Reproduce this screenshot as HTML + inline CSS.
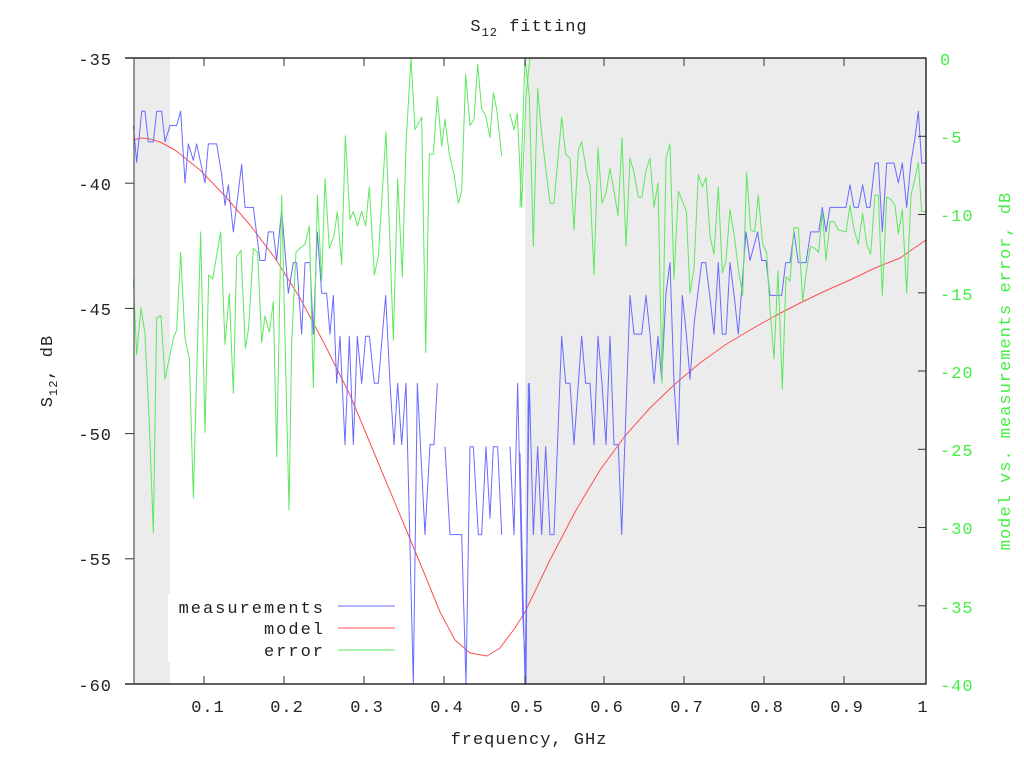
<!DOCTYPE html>
<html><head><meta charset="utf-8"><style>
html,body{margin:0;padding:0;background:#fff}
svg{display:block}
text{font-family:"Liberation Mono","DejaVu Sans Mono",monospace}
</style></head><body>
<svg width="1024" height="768" viewBox="0 0 1024 768" xmlns="http://www.w3.org/2000/svg">
<rect width="1024" height="768" fill="#fff"/>
<rect x="134" y="58" width="36" height="626" fill="#ececec"/>
<rect x="525" y="58" width="401" height="626" fill="#ececec"/>
<!-- legend background -->
<rect x="168" y="594" width="232" height="68" fill="#fff"/>

<g fill="none" stroke-linejoin="round">
<!-- model -->
<polyline stroke="#ff5050" stroke-width="1" points="134,140 140,138 150,139 160,142 175,150 200,170 225,196 250,225 275,258 300,298 325,345 350,395 375,455 400,515 425,575 440,612 455,640 470,653 487,656 500,648 515,628 525,612 550,560 575,512 600,470 625,436 650,408 675,384 700,363 725,345 750,330 775,316 800,303 825,291 850,280 875,268 900,258 926,240"/>
<!-- measurements left half -->
<g transform="translate(130,55.95) scale(0.33333,0.40917)" stroke="#6a6aff" stroke-width="1">
<polyline vector-effect="non-scaling-stroke" points="10,170 20,260 35,135 45,135 55,210 70,210 80,135 95,135 105,210 120,170 140,170 152,135 165,310 175,215 190,255 200,215 225,310 235,215 260,215 275,290 285,365 295,315 310,430 335,265 345,370 370,370 390,500 405,500 415,430 430,430 440,500 455,375 475,580 490,505 500,505 515,680 525,505 540,505 550,680 562,430 575,580 590,580 600,680 610,585 620,800 630,685 645,950 658,685 670,950 682,685 695,800 707,685 718,685 733,800 745,800 767,585 780,800 792,950 803,800 815,950 828,800 850,1535 862,800 885,1170 900,950 912,950 922,800"/>
<polyline vector-effect="non-scaling-stroke" points="945,955 960,1170 995,1170 1008,1535 1020,955 1030,955 1045,1170 1055,1170 1068,955 1080,1130 1090,955 1103,955 1115,1170"/>
<polyline vector-effect="non-scaling-stroke" points="1140,955 1152,1170 1163,800 1178,1360 1188,1535 1195,800"/>
</g>
<g transform="translate(520,55.95) scale(0.33333,0.40917)" stroke="#6a6aff" stroke-width="1">
<polyline vector-effect="non-scaling-stroke" points="0,970 15,1535 28,800 40,1170 53,955 65,1170 77,955 90,1170 102,1170 125,685 137,800 150,800 162,950 185,685 197,800 210,800 222,950 234,685 246,800 258,950 270,685 282,950 295,950 305,1170 330,585 342,680 365,680 378,585 390,680 402,800 414,685 425,790 438,580 450,505 462,800 474,950 487,585 499,680 510,790 523,650 545,505 557,505 570,590 582,680 595,505 607,680 618,680 630,505 643,590 655,680 678,430 690,500 713,430 725,500 738,500 750,585 785,585 797,505 810,505 822,430 835,505 858,505 872,430 896,430 907,370 918,430 930,370 978,370 990,315 1002,370 1015,370 1028,315 1040,370 1050,370 1065,262 1075,262 1087,430 1100,262 1122,262 1135,310 1147,262 1160,370 1173,260 1185,200 1195,135 1205,262 1218,262"/>
</g>
<!-- error -->
<g transform="translate(130,55.95) scale(0.33333,0.40917)" stroke="#5ee85e" stroke-width="1">
<polyline vector-effect="non-scaling-stroke" points="10,545 20,730 33,615 45,680 58,900 70,1165 80,640 93,635 105,790 130,690 140,670 152,480 165,690 178,740 190,1080 200,780 212,430 225,920 236,535 248,545 272,430 285,705 298,580 310,825 320,490 333,475 346,715 356,665 370,470 383,480 395,700 405,635 418,675 430,600 440,980 455,340 477,1110 485,700 498,480 510,470 525,460 538,415 550,810 562,340 575,550 585,300 598,470 612,440 622,380 635,510 646,195 660,400 670,380 682,415 695,380 707,415 718,320 733,535 745,490 768,185 790,695 803,300 817,540 828,215 843,5 855,180 875,150 887,725 898,240 910,240 922,100 935,220 945,155 958,240 972,290 985,360 995,330 1007,45 1020,170 1032,155 1043,20 1055,130 1067,145 1080,200 1090,90 1100,130 1115,245"/>
<polyline vector-effect="non-scaling-stroke" points="1140,140 1152,180 1162,140 1175,370 1188,100 1200,5"/>
</g>
<g transform="translate(520,55.95) scale(0.33333,0.40917)" stroke="#5ee85e" stroke-width="1">
<polyline vector-effect="non-scaling-stroke" points="0,370 15,5 28,100 40,465 53,80 65,190 75,260 90,360 102,360 125,150 137,240 150,250 162,425 175,230 185,210 200,285 210,315 222,535 234,225 246,360 258,335 270,275 282,330 294,390 306,200 318,465 330,250 342,285 355,345 366,345 378,280 390,250 402,370 414,310 426,800 438,250 450,215 462,545 475,330 487,355 499,380 510,580 522,520 535,290 547,320 558,297 570,440 582,485 595,320 607,530 618,500 630,375 643,440 655,520 668,585 680,285 692,425 704,430 715,340 728,460 740,480 750,620 762,740 774,525 787,815 798,540 810,550 822,420 835,420 848,600 860,520 872,465 884,470 896,480 907,380 918,500 930,405 942,405 955,425 978,430 990,365 1002,425 1015,460 1028,385 1040,460 1052,485 1065,340 1075,340 1087,585 1100,345 1112,350 1125,365 1135,435 1147,375 1160,580 1173,340 1185,300 1195,260 1205,380 1218,380"/>
</g>
</g>

<!-- frame -->
<g stroke="#000" stroke-width="1.2" fill="none">
<polyline points="125,58 926,58 926,684 125,684"/>
<line x1="134" y1="58" x2="134" y2="684" stroke="#555"/>
</g>
<!-- ticks -->
<g stroke="#333" stroke-width="1">
<line x1="125" y1="183.2" x2="134" y2="183.2"/><line x1="125" y1="308.4" x2="134" y2="308.4"/><line x1="125" y1="433.6" x2="134" y2="433.6"/><line x1="125" y1="558.8" x2="134" y2="558.8"/>
<line x1="918" y1="136.3" x2="926" y2="136.3"/><line x1="918" y1="214.5" x2="926" y2="214.5"/><line x1="918" y1="292.8" x2="926" y2="292.8"/><line x1="918" y1="371" x2="926" y2="371"/><line x1="918" y1="449.3" x2="926" y2="449.3"/><line x1="918" y1="527.5" x2="926" y2="527.5"/><line x1="918" y1="605.8" x2="926" y2="605.8"/>
<line x1="204" y1="58" x2="204" y2="66"/><line x1="284" y1="58" x2="284" y2="66"/><line x1="364" y1="58" x2="364" y2="66"/><line x1="444" y1="58" x2="444" y2="66"/><line x1="525" y1="58" x2="525" y2="66"/><line x1="604" y1="58" x2="604" y2="66"/><line x1="684" y1="58" x2="684" y2="66"/><line x1="764" y1="58" x2="764" y2="66"/><line x1="844" y1="58" x2="844" y2="66"/>
<line x1="204" y1="684" x2="204" y2="676"/><line x1="284" y1="684" x2="284" y2="676"/><line x1="364" y1="684" x2="364" y2="676"/><line x1="444" y1="684" x2="444" y2="676"/><line x1="525" y1="684" x2="525" y2="676"/><line x1="604" y1="684" x2="604" y2="676"/><line x1="684" y1="684" x2="684" y2="676"/><line x1="764" y1="684" x2="764" y2="676"/><line x1="844" y1="684" x2="844" y2="676"/>
</g>

<!-- left labels -->
<g font-size="17" fill="#222" text-anchor="end" letter-spacing="1">
<text x="112" y="65">-35</text><text x="112" y="190">-40</text><text x="112" y="315">-45</text><text x="112" y="440">-50</text><text x="112" y="565">-55</text><text x="112" y="691">-60</text>
</g>
<!-- right labels -->
<g font-size="17" fill="#44ee44" letter-spacing="1">
<text x="940" y="65">0</text><text x="940" y="143">-5</text><text x="940" y="221">-10</text><text x="940" y="300">-15</text><text x="940" y="378">-20</text><text x="940" y="456">-25</text><text x="940" y="534">-30</text><text x="940" y="613">-35</text><text x="940" y="691">-40</text>
</g>
<!-- x labels -->
<g font-size="17" fill="#222" text-anchor="middle" letter-spacing="1">
<text x="208" y="712">0.1</text><text x="287" y="712">0.2</text><text x="367" y="712">0.3</text><text x="447" y="712">0.4</text><text x="527" y="712">0.5</text><text x="607" y="712">0.6</text><text x="687" y="712">0.7</text><text x="767" y="712">0.8</text><text x="847" y="712">0.9</text><text x="923" y="712">1</text>
</g>
<text x="529" y="744" font-size="17" fill="#222" text-anchor="middle" letter-spacing="1">frequency, GHz</text>
<text x="529" y="31" font-size="17" fill="#222" text-anchor="middle" letter-spacing="1">S<tspan font-size="12" dy="5">12</tspan><tspan dy="-5"> fitting</tspan></text>
<text transform="translate(52,371) rotate(-90)" font-size="17" fill="#222" text-anchor="middle" letter-spacing="1">S<tspan font-size="12" dy="5">12</tspan><tspan dy="-5">, dB</tspan></text>
<text transform="translate(1010,371) rotate(-90)" font-size="17" fill="#44ee44" text-anchor="middle" letter-spacing="1">model vs. measurements error, dB</text>

<!-- legend -->
<g font-size="17" fill="#222" text-anchor="end" letter-spacing="2">
<text x="325" y="613">measurements</text><text x="325" y="634">model</text><text x="325" y="656">error</text>
</g>
<line x1="338" y1="606" x2="395" y2="606" stroke="#6a6aff" stroke-width="1"/>
<line x1="338" y1="628" x2="395" y2="628" stroke="#ff5050" stroke-width="1"/>
<line x1="338" y1="650" x2="395" y2="650" stroke="#5ee85e" stroke-width="1"/>
</svg>
</body></html>
